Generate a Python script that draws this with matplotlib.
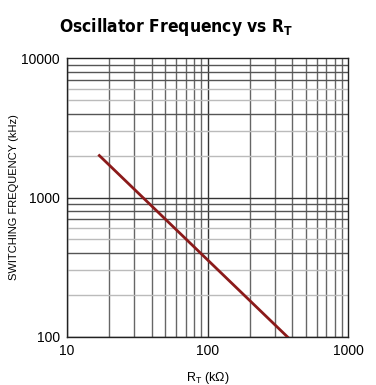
import numpy as np
import matplotlib
matplotlib.use('Agg')
import matplotlib.pyplot as plt

# data
rt_kohm = [17, 370]
freq_khz = [2000, 100]

x_ticks = [10, 100, 1000]
x_ticklabels = ['10', '100', '1000']
y_ticks = [100, 1000, 10000]
y_ticklabels = ['100', '1000', '10000']

plt.rcParams['font.family'] = ['Liberation Sans', 'DejaVu Sans']

fig = plt.figure(figsize=(3.76, 3.85), dpi=100)
ax = fig.add_axes([0.178, 0.125, 0.748, 0.724])
ax.set_xscale('log')
ax.set_yscale('log')
ax.set_xlim(10, 1000)
ax.set_ylim(100, 10000)

# grid
for dec in [10, 100]:
    for m in range(2, 10):
        ax.axvline(dec * m, color='#666666', lw=1.0, zorder=1)
    ax.axvline(dec, color='#333333', lw=1.0, zorder=1)
for dec in [100, 1000]:
    for m in range(2, 10):
        c = '#bbbbbb' if m in (2, 3, 5, 6) else '#555555'
        ax.axhline(dec * m, color=c, lw=1.0, zorder=1)
    ax.axhline(dec, color='#333333', lw=1.0, zorder=1)

ax.plot(rt_kohm, freq_khz, color='#8b1a1a', lw=2.0, zorder=3)

for s in ax.spines.values():
    s.set_color('#222222')
    s.set_linewidth(1.0)

ax.set_xticks(x_ticks)
ax.set_xticklabels(x_ticklabels)
ax.set_yticks(y_ticks)
ax.set_yticklabels(y_ticklabels)
ax.minorticks_off()
ax.tick_params(length=0, labelsize=10, pad=5)

ax.set_ylabel('SWITCHING FREQUENCY (kHz)', fontsize=8)
ax.yaxis.set_label_coords(-0.17, 0.5)
ax.set_xlabel(r'R$_\mathregular{T}$ (kΩ)', fontsize=9)
ax.xaxis.set_label_coords(0.5, -0.12)

fig.text(0.468, 0.93, r'Oscillator Frequency vs R$_\mathregular{T}$', ha='center', va='center',
         fontsize=12.5, fontweight='bold', fontstretch='condensed', family='DejaVu Sans')

fig.savefig('out.png', dpi=100)
